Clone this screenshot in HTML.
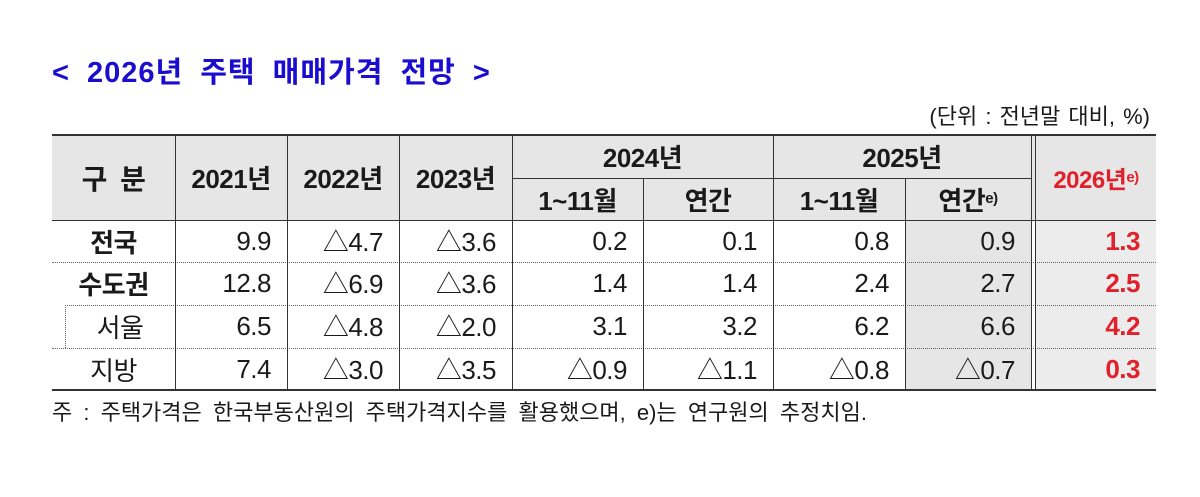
<!DOCTYPE html>
<html><head><meta charset="utf-8"><style>
body{margin:0;width:1200px;height:497px;background:#fff;position:relative;overflow:hidden;font-family:"Liberation Sans","Noto Sans CJK KR",sans-serif;color:#1a1a1a}
.a{position:absolute;white-space:nowrap}
.c{position:absolute;display:flex;align-items:center;justify-content:center;font-size:26px;white-space:nowrap;letter-spacing:-0.5px}
.r{justify-content:flex-end;padding-right:16px;box-sizing:border-box}
.b{font-weight:bold}
.red{color:#e0202a;font-weight:bold}
.v{position:absolute;width:1px;background:#333}
.h{position:absolute;height:1px;background:#333}
.d{position:absolute;height:0;border-top:1px dotted #666}
sup{font-size:15px;vertical-align:11px;line-height:0}
</style></head><body>
<div class="a b" style="left:52px;top:49px;font-size:29px;color:#1a0dd0;letter-spacing:1px;word-spacing:8px">&lt; 2026년 주택 매매가격 전망 &gt;</div>
<div class="a" style="right:50px;top:99px;font-size:22px;word-spacing:2px">(단위 : 전년말 대비, %)</div>

<div class="a" style="left:52px;top:135px;width:1104px;height:85px;background:#e6e6e6"></div>
<div class="a" style="left:905px;top:220px;width:126px;height:170px;background:#e6e6e6"></div>
<div class="a" style="left:1036px;top:220px;width:120px;height:170px;background:#ececec"></div>

<div class="h" style="left:52px;top:134px;width:1104px;height:2px"></div>
<div class="h" style="left:512px;top:178px;width:519px"></div>
<div class="h" style="left:52px;top:220px;width:1104px"></div>
<div class="d" style="left:52px;top:262px;width:1104px"></div>
<div class="d" style="left:65px;top:305px;width:1091px"></div>
<div class="d" style="left:52px;top:348px;width:1104px"></div>
<div class="h" style="left:52px;top:389px;width:1104px;height:2px"></div>
<div class="a" style="left:65px;top:305px;height:43px;border-left:1px dotted #666"></div>

<div class="v" style="left:175px;top:135px;height:255px"></div>
<div class="v" style="left:287px;top:135px;height:255px"></div>
<div class="v" style="left:399px;top:135px;height:255px"></div>
<div class="v" style="left:512px;top:135px;height:255px"></div>
<div class="v" style="left:643px;top:178px;height:212px"></div>
<div class="v" style="left:773px;top:135px;height:255px"></div>
<div class="v" style="left:905px;top:178px;height:212px"></div>
<div class="v" style="left:1031px;top:135px;height:255px"></div>
<div class="v" style="left:1035px;top:135px;height:255px"></div>

<div class="c b" style="left:52px;top:135px;width:123px;height:85px;font-size:28px;word-spacing:6px">구 분</div>
<div class="c b" style="left:175px;top:135px;width:112px;height:85px">2021년</div>
<div class="c b" style="left:287px;top:135px;width:112px;height:85px">2022년</div>
<div class="c b" style="left:399px;top:135px;width:113px;height:85px">2023년</div>
<div class="c b" style="left:512px;top:135px;width:261px;height:43px">2024년</div>
<div class="c b" style="left:773px;top:135px;width:258px;height:43px">2025년</div>
<div class="c b" style="left:512px;top:178px;width:131px;height:42px">1~11월</div>
<div class="c b" style="left:643px;top:178px;width:130px;height:42px">연간</div>
<div class="c b" style="left:773px;top:178px;width:132px;height:42px">1~11월</div>
<div class="c b" style="left:905px;top:178px;width:126px;height:42px">연간<sup>e)</sup></div>
<div class="c red" style="left:1036px;top:135px;width:120px;height:85px;font-size:24px">2026년<sup>e)</sup></div>

<div class="c b" style="left:52px;top:220px;width:123px;height:42px">전국</div>
<div class="c r" style="left:175px;top:220px;width:112px;height:42px">9.9</div>
<div class="c r" style="left:287px;top:219px;width:112px;height:42px">△4.7</div>
<div class="c r" style="left:399px;top:219px;width:113px;height:42px">△3.6</div>
<div class="c r" style="left:512px;top:220px;width:131px;height:42px">0.2</div>
<div class="c r" style="left:643px;top:220px;width:130px;height:42px">0.1</div>
<div class="c r" style="left:773px;top:220px;width:132px;height:42px">0.8</div>
<div class="c r" style="left:905px;top:220px;width:126px;height:42px">0.9</div>
<div class="c r red" style="left:1036px;top:220px;width:120px;height:42px">1.3</div>

<div class="c b" style="left:52px;top:262px;width:123px;height:43px">수도권</div>
<div class="c r" style="left:175px;top:262px;width:112px;height:43px">12.8</div>
<div class="c r" style="left:287px;top:261px;width:112px;height:43px">△6.9</div>
<div class="c r" style="left:399px;top:261px;width:113px;height:43px">△3.6</div>
<div class="c r" style="left:512px;top:262px;width:131px;height:43px">1.4</div>
<div class="c r" style="left:643px;top:262px;width:130px;height:43px">1.4</div>
<div class="c r" style="left:773px;top:262px;width:132px;height:43px">2.4</div>
<div class="c r" style="left:905px;top:262px;width:126px;height:43px">2.7</div>
<div class="c r red" style="left:1036px;top:262px;width:120px;height:43px">2.5</div>

<div class="c" style="left:65px;top:305px;width:110px;height:43px">서울</div>
<div class="c r" style="left:175px;top:305px;width:112px;height:43px">6.5</div>
<div class="c r" style="left:287px;top:304px;width:112px;height:43px">△4.8</div>
<div class="c r" style="left:399px;top:304px;width:113px;height:43px">△2.0</div>
<div class="c r" style="left:512px;top:305px;width:131px;height:43px">3.1</div>
<div class="c r" style="left:643px;top:305px;width:130px;height:43px">3.2</div>
<div class="c r" style="left:773px;top:305px;width:132px;height:43px">6.2</div>
<div class="c r" style="left:905px;top:305px;width:126px;height:43px">6.6</div>
<div class="c r red" style="left:1036px;top:305px;width:120px;height:43px">4.2</div>

<div class="c" style="left:52px;top:348px;width:123px;height:42px">지방</div>
<div class="c r" style="left:175px;top:348px;width:112px;height:42px">7.4</div>
<div class="c r" style="left:287px;top:347px;width:112px;height:42px">△3.0</div>
<div class="c r" style="left:399px;top:347px;width:113px;height:42px">△3.5</div>
<div class="c r" style="left:512px;top:347px;width:131px;height:42px">△0.9</div>
<div class="c r" style="left:643px;top:347px;width:130px;height:42px">△1.1</div>
<div class="c r" style="left:773px;top:347px;width:132px;height:42px">△0.8</div>
<div class="c r" style="left:905px;top:347px;width:126px;height:42px">△0.7</div>
<div class="c r red" style="left:1036px;top:348px;width:120px;height:42px">0.3</div>

<div class="a" style="left:52px;top:395px;font-size:22px;word-spacing:5px">주 : 주택가격은 한국부동산원의 주택가격지수를 활용했으며, e)는 연구원의 추정치임.</div>
</body></html>
